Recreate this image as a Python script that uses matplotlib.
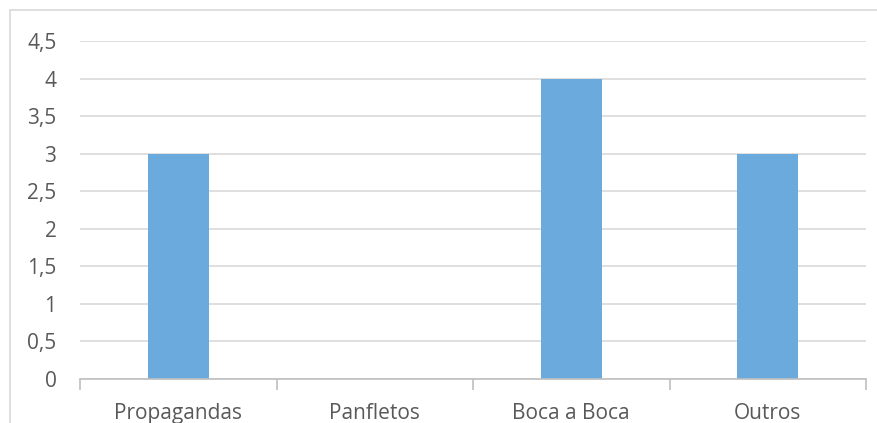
import matplotlib
matplotlib.use("Agg")
import matplotlib.pyplot as plt
from matplotlib.patches import Rectangle
import numpy as np

categories = ["Propagandas", "Panfletos", "Boca a Boca", "Outros"]
values = [3, 0, 4, 3]
yticks = [0, 0.5, 1, 1.5, 2, 2.5, 3, 3.5, 4, 4.5]
ytick_labels = ["0", "0,5", "1", "1,5", "2", "2,5", "3", "3,5", "4", "4,5"]

W, H = 877, 423
fig = plt.figure(figsize=(W / 100, H / 100), dpi=100)
plt.rcParams['font.family'] = ['Open Sans', 'DejaVu Sans']

# chart frame
fig.patches.append(Rectangle((10 / W, -0.1), 2, (H - 10) / H + 0.1,
                             transform=fig.transFigure, fill=False,
                             edgecolor="#d9d9d9", linewidth=1.2))

ax = fig.add_axes([80 / W, (H - 379) / H, (866 - 80) / W, (379 - 41) / H])
x = np.arange(len(categories))
ax.bar(x, values, width=0.31, color="#6aaadc", zorder=3)
ax.set_xlim(-0.5, len(categories) - 0.5)
ax.set_ylim(0, 4.5)

ax.set_yticks(yticks)
ax.set_yticklabels(ytick_labels)
ax.yaxis.grid(True, color="#d9d9d9", linewidth=1.2, zorder=0)
ax.tick_params(axis="y", length=0, pad=17, labelsize=15, labelcolor="#595959")

ax.set_xticks(np.arange(-0.5, len(categories)), minor=False)
ax.set_xticklabels([])
ax.set_xticks(x, minor=True)
ax.set_xticklabels(categories, minor=True)
ax.tick_params(axis="x", which="major", length=8, color="#bfbfbf", width=1.2)
ax.tick_params(axis="x", which="minor", length=0, pad=17, labelsize=15,
               labelcolor="#595959")

for s in ["top", "right", "left"]:
    ax.spines[s].set_visible(False)
ax.spines["bottom"].set_color("#bfbfbf")
ax.spines["bottom"].set_linewidth(1.2)
ax.spines["bottom"].set_zorder(4)

fig.savefig("out.png", dpi=100)
